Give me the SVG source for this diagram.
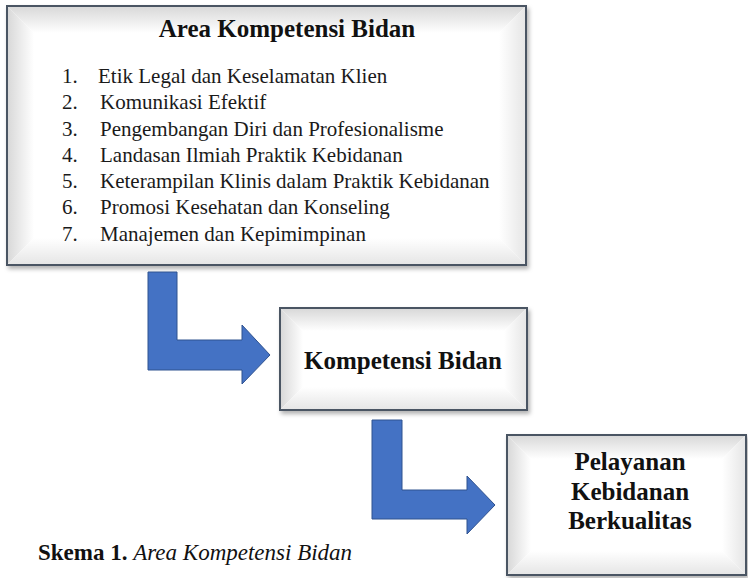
<svg xmlns="http://www.w3.org/2000/svg" width="748" height="578" viewBox="0 0 748 578">
<defs>
<linearGradient id="gTop" x1="0" y1="0" x2="0" y2="1"><stop offset="0" stop-color="#d9d9d9"/><stop offset="1" stop-color="#ffffff"/></linearGradient>
<linearGradient id="gLeft" x1="0" y1="0" x2="1" y2="0"><stop offset="0" stop-color="#d9d9d9"/><stop offset="1" stop-color="#ffffff"/></linearGradient>
<linearGradient id="gBot" x1="0" y1="1" x2="0" y2="0"><stop offset="0" stop-color="#e6e6e6"/><stop offset="1" stop-color="#ffffff"/></linearGradient>
<linearGradient id="gRight" x1="1" y1="0" x2="0" y2="0"><stop offset="0" stop-color="#e6e6e6"/><stop offset="1" stop-color="#ffffff"/></linearGradient>
<filter id="sh" x="-5%" y="-5%" width="115%" height="120%"><feDropShadow dx="2" dy="3" stdDeviation="2" flood-color="#000" flood-opacity="0.3"/></filter>
</defs>
<style>
.frame{fill:#ffffff;stroke:#4a5563;stroke-width:2}
.serif{font-family:"Liberation Serif","Times New Roman",serif}
.list{font-size:21px;fill:#1a1a1a}
.bold{font-weight:bold;fill:#111}
.arrow{fill:#4472C4;stroke:#2F528F;stroke-width:1}
</style>
<rect width="748" height="578" fill="#ffffff"/>

<g id="area-kompetensi">
<rect class="frame" x="7" y="6" width="519" height="259" filter="url(#sh)"/>
<polygon points="8,7 525,7 499,33 34,33" fill="url(#gTop)"/>
<polygon points="8,7 34,33 34,238 8,264" fill="url(#gLeft)"/>
<polygon points="8,264 34,238 499,238 525,264" fill="url(#gBot)"/>
<polygon points="525,7 525,264 499,238 499,33" fill="url(#gRight)"/>
<rect x="7" y="6" width="519" height="259" fill="none" stroke="#4a5563" stroke-width="2"/>
<text class="serif bold" x="287" y="37" font-size="25" text-anchor="middle">Area Kompetensi Bidan</text>
<g class="serif list">
<text x="62" y="83">1.</text><text x="98" y="83">Etik Legal dan Keselamatan Klien</text>
<text x="62" y="109">2.</text><text x="100" y="109">Komunikasi Efektif</text>
<text x="62" y="136">3.</text><text x="100" y="136">Pengembangan Diri dan Profesionalisme</text>
<text x="62" y="162">4.</text><text x="100" y="162">Landasan Ilmiah Praktik Kebidanan</text>
<text x="62" y="188">5.</text><text x="100" y="188">Keterampilan Klinis dalam Praktik Kebidanan</text>
<text x="62" y="214">6.</text><text x="100" y="214">Promosi Kesehatan dan Konseling</text>
<text x="62" y="241">7.</text><text x="100" y="241">Manajemen dan Kepimimpinan</text>
</g>
</g>

<g id="kompetensi-bidan">
<rect class="frame" x="280" y="308" width="247" height="102" filter="url(#sh)"/>
<polygon points="281,309 526,309 504,331 303,331" fill="url(#gTop)"/>
<polygon points="281,309 303,331 303,387 281,409" fill="url(#gLeft)"/>
<polygon points="281,409 303,387 504,387 526,409" fill="url(#gBot)"/>
<polygon points="526,309 526,409 504,387 504,331" fill="url(#gRight)"/>
<rect x="280" y="308" width="247" height="102" fill="none" stroke="#4a5563" stroke-width="2"/>
<text class="serif bold" x="403" y="369" font-size="25" text-anchor="middle">Kompetensi Bidan</text>
</g>

<g id="pelayanan">
<rect class="frame" x="507" y="435" width="239" height="140" filter="url(#sh)"/>
<polygon points="508,436 745,436 722,459 531,459" fill="url(#gTop)"/>
<polygon points="508,436 531,459 531,551 508,574" fill="url(#gLeft)"/>
<polygon points="508,574 531,551 722,551 745,574" fill="url(#gBot)"/>
<polygon points="745,436 745,574 722,551 722,459" fill="url(#gRight)"/>
<rect x="507" y="435" width="239" height="140" fill="none" stroke="#4a5563" stroke-width="2"/>
<g class="serif bold" font-size="25" text-anchor="middle">
<text x="630" y="470">Pelayanan</text>
<text x="630" y="500">Kebidanan</text>
<text x="630" y="529">Berkualitas</text>
</g>
</g>

<g id="connectors">
<polygon class="arrow" points="148,272 177,272 177,340 242,340 242,325 270,355 242,384 242,370 148,370"/>
<polygon class="arrow" points="372,420 402,420 402,490 467,490 467,476 495,505 467,534 467,519 372,519"/>
</g>

<text class="serif" x="38" y="560" font-size="23" fill="#111"><tspan font-weight="bold">Skema 1.</tspan> <tspan font-style="italic">Area Kompetensi Bidan</tspan></text>
</svg>
